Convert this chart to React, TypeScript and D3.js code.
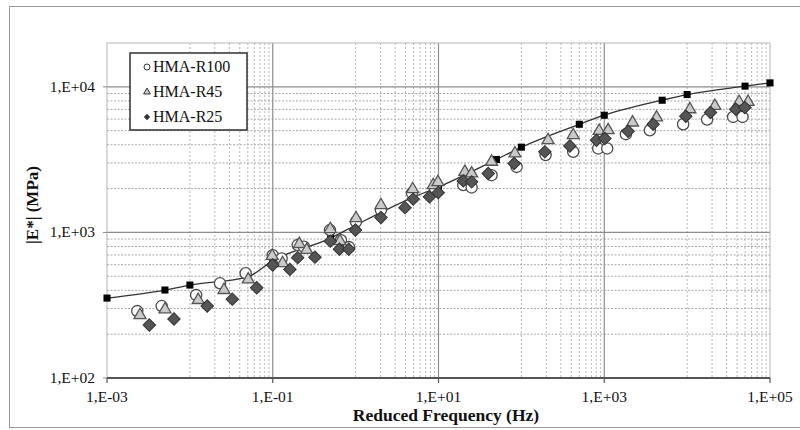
import React from 'react';
import * as d3 from 'd3';

// HMA-R100 (circles)
const r100Freq = [0.00232, 0.00457, 0.0119, 0.0231, 0.0471, 0.0998, 0.128, 0.2, 0.238, 0.49, 0.665, 0.83, 1.01, 2.02, 4.78, 9.06, 19.9, 25.1, 43.7, 87.5, 196, 422, 845, 1085, 1823, 3550, 8950, 17420, 35890, 46600];
const r100Mod = [288, 312, 371, 447, 524, 698, 663, 818, 797, 1038, 885, 793, 1183, 1423, 1862, 2006, 2113, 2037, 2472, 2818, 3397, 3576, 3773, 3773, 4732, 5035, 5535, 5965, 6215, 6215];

// HMA-R45 (triangles)
const r45Freq = [0.0025, 0.00501, 0.0126, 0.0258, 0.0506, 0.0985, 0.1315, 0.209, 0.257, 0.494, 0.647, 1.01, 2.02, 4.88, 8.63, 9.84, 20.8, 25.1, 43.7, 83.6, 210, 422, 868, 1114, 2195, 4275, 10790, 21600, 42400, 54400];
const r45Mod = [270, 296, 343, 402, 475, 690, 615, 832, 757, 1054, 871, 1253, 1538, 1982, 2113, 2215, 2606, 2540, 3055, 3487, 4300, 4655, 4980, 5035, 5685, 6155, 7010, 7390, 7880, 7880];

// HMA-R25 (diamonds)
const r25Freq = [0.00324, 0.00643, 0.0162, 0.0325, 0.064, 0.0998, 0.161, 0.2, 0.323, 0.494, 0.638, 0.826, 0.995, 2.02, 3.94, 4.95, 7.78, 9.91, 19.9, 25.1, 39.8, 81.8, 192, 385, 807, 1016, 1941, 3890, 9640, 19140, 38640, 49650];
const r25Mod = [231, 254, 312, 348, 417, 597, 557, 671, 676, 871, 767, 767, 1038, 1265, 1480, 1694, 1758, 1876, 2259, 2224, 2540, 2976, 3576, 3927, 4300, 4412, 4955, 5535, 6285, 6665, 7020, 7210];

// master curve (black squares + line)
const fitFreq = [0.001, 0.005, 0.01, 0.05, 0.1, 0.5, 1, 5, 10, 50, 100, 500, 1000, 5000, 10000, 50000, 100000];
const fitMod = [354, 402, 435, 495, 640, 914, 1120, 1746, 2050, 3170, 3850, 5530, 6380, 8090, 8850, 10110, 10640];

const xTicks = [1e-3, 1e-1, 1e1, 1e3, 1e5];
const xTickLabels = ['1,E-03', '1,E-01', '1,E+01', '1,E+03', '1,E+05'];
const yTicks = [1e2, 1e3, 1e4];
const yTickLabels = ['1,E+02', '1,E+03', '1,E+04'];

const legendNames = ['HMA-R100', 'HMA-R45', 'HMA-R25'];

const W = 800;
const H = 430;
const L = 107, R = 770, T = 43, B = 378;
const FONT = '"Liberation Serif", "Times New Roman", serif';

const x = d3.scaleLog().domain([1e-3, 1e5]).range([L, R]);
const y = d3.scaleLog().domain([100, 20000]).range([B, T]);

const triPath = d3.symbol().type(d3.symbolTriangle).size(62)()!;
const diaPath = d3.symbol().type(d3.symbolSquare).size(78)()!;
const sqPath = d3.symbol().type(d3.symbolSquare).size(50)()!;
const triSmall = d3.symbol().type(d3.symbolTriangle).size(20)()!;
const diaSmall = d3.symbol().type(d3.symbolSquare).size(20)()!;

// minor vertical lines: 1..9 x 10^(k+1) inside each two-decade band
const vMinor: number[] = [];
[-3, -1, 1, 3].forEach((k) => {
  for (let m = 1; m <= 9; m++) vMinor.push(m * Math.pow(10, k + 1));
});
const vMajor = [1e-1, 1e1, 1e3];
const hMinor: number[] = [];
[2, 3].forEach((e) => {
  for (let m = 2; m <= 9; m++) hMinor.push(m * Math.pow(10, e));
});
const hMajor = [1e3, 1e4];

const App = () => {
  const fitLine = d3
    .line<number>()
    .x((d) => x(d))
    .y((_, i) => y(fitMod[i]))
    .curve(d3.curveMonotoneX);

  return (
    <svg width={W} height={H} style={{ position: 'absolute', left: 0, top: 0, background: '#fff' }}>
      <rect x={9.5} y={6.5} width={800} height={421} fill="#fff" stroke="#9a9a9a" />

      {/* grid */}
      {vMinor.map((v, i) => (
        <line key={'vm' + i} x1={x(v)} x2={x(v)} y1={T} y2={B} stroke="#b8b8b8" strokeDasharray="2,2" />
      ))}
      {hMinor.map((v, i) => (
        <line key={'hm' + i} x1={L} x2={R} y1={y(v)} y2={y(v)} stroke="#a8a8a8" strokeDasharray="2,1.5" />
      ))}
      {vMajor.map((v, i) => (
        <line key={'vM' + i} x1={x(v)} x2={x(v)} y1={T} y2={B} stroke="#8c8c8c" strokeWidth={1.2} />
      ))}
      {hMajor.map((v, i) => (
        <line key={'hM' + i} x1={L} x2={R} y1={y(v)} y2={y(v)} stroke="#8c8c8c" strokeWidth={1.2} />
      ))}
      <rect x={L} y={T} width={R - L} height={B - T} fill="none" stroke="#b5b5b5" />

      {/* axes */}
      <line x1={L} x2={R} y1={B} y2={B} stroke="#555" strokeWidth={2.2} />
      {xTicks.map((v, i) => (
        <g key={'xt' + i}>
          <line x1={x(v)} x2={x(v)} y1={B} y2={B + 5} stroke="#555" strokeWidth={1.2} />
          <text x={x(v)} y={402} textAnchor="middle" fontFamily={FONT} fontSize={15.5} fill="#111">
            {xTickLabels[i]}
          </text>
        </g>
      ))}
      {yTicks.map((v, i) => (
        <g key={'yt' + i}>
          <line x1={L - 4} x2={L} y1={y(v)} y2={y(v)} stroke="#888" />
          <text x={95} y={y(v) + 5} textAnchor="end" fontFamily={FONT} fontSize={15.5} fill="#111">
            {yTickLabels[i]}
          </text>
        </g>
      ))}
      <text x={446} y={421} textAnchor="middle" fontFamily={FONT} fontWeight="bold" fontSize={17.5} fill="#111">
        Reduced Frequency (Hz)
      </text>
      <text
        transform="translate(38,205) rotate(-90)"
        textAnchor="middle"
        fontFamily={FONT}
        fontWeight="bold"
        fontSize={17}
        fill="#111"
      >
        |E*| (MPa)
      </text>

      {/* master curve */}
      <path d={fitLine(fitFreq) || ''} fill="none" stroke="#333" strokeWidth={1.3} />
      {fitFreq.map((f, i) => (
        <path key={'sq' + i} d={sqPath} transform={`translate(${x(f)},${y(fitMod[i])})`} fill="#000" />
      ))}

      {/* series */}
      {r100Freq.map((f, i) => (
        <circle key={'c' + i} cx={x(f)} cy={y(r100Mod[i])} r={5.6} fill="#fff" stroke="#4a4a4a" strokeWidth={1.3} />
      ))}
      {r45Freq.map((f, i) => (
        <path
          key={'t' + i}
          d={triPath}
          transform={`translate(${x(f)},${y(r45Mod[i])})`}
          fill="#cacaca"
          stroke="#555"
          strokeWidth={1.3}
        />
      ))}
      {r25Freq.map((f, i) => (
        <path
          key={'d' + i}
          d={diaPath}
          transform={`translate(${x(f)},${y(r25Mod[i])}) rotate(45)`}
          fill="#555"
          stroke="#333"
          strokeWidth={1}
        />
      ))}

      {/* legend */}
      <rect x={130} y={53} width={117} height={77} fill="#fff" stroke="#222" strokeWidth={1.4} />
      {legendNames.map((name, i) => {
        const cy = 67 + i * 25;
        return (
          <g key={'lg' + i}>
            {i === 0 && <circle cx={147} cy={cy} r={3} fill="#fff" stroke="#333" strokeWidth={1} />}
            {i === 1 && <path d={triSmall} transform={`translate(147,${cy})`} fill="#ccc" stroke="#333" />}
            {i === 2 && <path d={diaSmall} transform={`translate(147,${cy}) rotate(45)`} fill="#333" />}
            <text x={153} y={cy + 5} fontFamily={FONT} fontSize={16} fill="#111">
              {name}
            </text>
          </g>
        );
      })}
    </svg>
  );
};

export default App;
